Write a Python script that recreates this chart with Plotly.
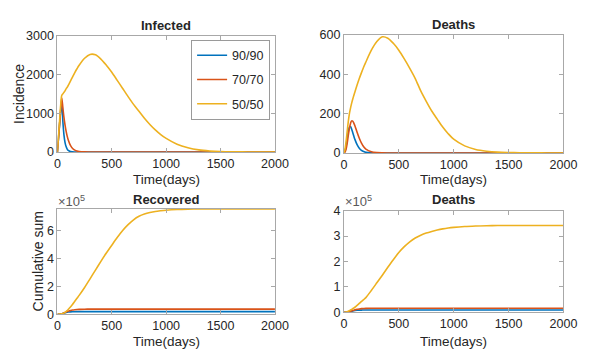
import plotly.graph_objects as go

# ---------------- data ----------------
t = [0, 10, 20, 30, 40, 50, 60, 70, 80, 90, 100, 120, 140, 160, 180, 200,
     250, 300, 350, 400, 450, 500, 550, 600, 650, 700, 750, 800, 850, 900, 950, 1000,
     1100, 1200, 1300, 1400, 1500, 1600, 1700, 1800, 1900, 2000]

series_names = ["90/90", "70/70", "50/50"]
colors = ["#0072BD", "#D95319", "#EDB120"]

# Infected incidence
inf_90 = [0, 350, 700, 1050, 1300, 800, 450, 250, 140, 75, 40, 10, 3, 1, 0, 0,
          0, 0, 0, 0, 0, 0, 0, 0, 0, 0, 0, 0, 0, 0, 0, 0,
          0, 0, 0, 0, 0, 0, 0, 0, 0, 0]
inf_70 = [0, 360, 720, 1080, 1400, 1150, 900, 700, 540, 410, 310, 170, 90, 48, 25, 13,
          3, 1, 0, 0, 0, 0, 0, 0, 0, 0, 0, 0, 0, 0, 0, 0,
          0, 0, 0, 0, 0, 0, 0, 0, 0, 0]
inf_50 = [0, 400, 800, 1200, 1460, 1500, 1540, 1580, 1630, 1670, 1720, 1830, 1940, 2050, 2150, 2240,
          2420, 2520, 2510, 2400, 2240, 2060, 1850, 1640, 1430, 1230, 1050, 870, 710, 570, 450, 350,
          200, 110, 55, 27, 12, 5, 2, 1, 0, 0]

# Deaths incidence
dth_90 = [0, 10, 35, 75, 110, 132, 134, 122, 104, 86, 69, 42, 24, 13, 7, 3.5,
          0.7, 0.1, 0, 0, 0, 0, 0, 0, 0, 0, 0, 0, 0, 0, 0, 0,
          0, 0, 0, 0, 0, 0, 0, 0, 0, 0]
dth_70 = [0, 5, 20, 50, 90, 125, 150, 163, 162, 152, 138, 105, 75, 50, 32, 20,
          6, 1.5, 0.3, 0, 0, 0, 0, 0, 0, 0, 0, 0, 0, 0, 0, 0,
          0, 0, 0, 0, 0, 0, 0, 0, 0, 0]
dth_50 = [0, 20, 60, 110, 160, 200, 228, 252, 273, 292, 310, 345, 378, 408, 437, 462,
          522, 566, 590, 583, 557, 522, 478, 430, 378, 315, 262, 213, 172, 132, 98, 70,
          36, 18, 9, 4, 2, 1, 0.5, 0.2, 0.1, 0]

# Cumulative recovered
rec_90 = [0, 100, 500, 1500, 3200, 5800, 8500, 11000, 13000, 14500, 15800, 17300, 18200, 18600, 18800, 18900,
          19000, 19000, 19000, 19000, 19000, 19000, 19000, 19000, 19000, 19000, 19000, 19000, 19000, 19000, 19000, 19000,
          19000, 19000, 19000, 19000, 19000, 19000, 19000, 19000, 19000, 19000]
rec_70 = [0, 100, 600, 1700, 3500, 6500, 10000, 13500, 17000, 20000, 22500, 27000, 30500, 33000, 34500, 35500,
          36500, 36900, 37000, 37000, 37000, 37000, 37000, 37000, 37000, 37000, 37000, 37000, 37000, 37000, 37000, 37000,
          37000, 37000, 37000, 37000, 37000, 37000, 37000, 37000, 37000, 37000]
rec_50 = [0, 300, 1000, 2000, 3200, 5000, 9000, 14000, 20000, 27000, 35000, 52000, 72000, 94000, 115000, 136000,
          193000, 255000, 318000, 381000, 441000, 497000, 552000, 603000, 645000, 680000, 705000, 721000, 732000, 740000, 745000, 749000,
          754000, 756500, 757500, 758000, 758000, 758000, 758000, 758000, 758000, 758000]

# Cumulative deaths
cd_90 = [0, 20, 150, 450, 1100, 2100, 3300, 4500, 5600, 6500, 7200, 8200, 8700, 8900, 9000, 9050,
         9100, 9100, 9100, 9100, 9100, 9100, 9100, 9100, 9100, 9100, 9100, 9100, 9100, 9100, 9100, 9100,
         9100, 9100, 9100, 9100, 9100, 9100, 9100, 9100, 9100, 9100]
cd_70 = [0, 20, 150, 500, 1200, 2400, 3800, 5400, 7000, 8500, 9800, 12000, 13500, 14500, 15100, 15500,
         15900, 16000, 16000, 16000, 16000, 16000, 16000, 16000, 16000, 16000, 16000, 16000, 16000, 16000, 16000, 16000,
         16000, 16000, 16000, 16000, 16000, 16000, 16000, 16000, 16000, 16000]
cd_50 = [0, 200, 900, 2300, 4200, 6500, 9000, 11500, 14000, 17000, 20000, 27000, 35000, 43000, 50000, 58000,
         86000, 116000, 146000, 177000, 207000, 235000, 258000, 277000, 292000, 303000, 311500, 318000, 323500, 328000, 331500, 334000,
         337500, 339500, 340600, 341100, 341300, 341400, 341400, 341400, 341400, 341400]

x_ticks = [0, 500, 1000, 1500, 2000]

# ---------------- figure ----------------
FONT = "Liberation Sans, Arial, Helvetica, sans-serif"
TXT = "#262626"
BOX = "#a8a8a8"

fig = go.Figure()

panels = [
    ("x", "y", [inf_90, inf_70, inf_50], True),
    ("x2", "y2", [dth_90, dth_70, dth_50], False),
    ("x3", "y3", [rec_90, rec_70, rec_50], False),
    ("x4", "y4", [cd_90, cd_70, cd_50], False),
]
for xa, ya, data, show in panels:
    for name, col, vals in zip(series_names, colors, data):
        fig.add_trace(go.Scatter(
            x=t, y=vals, mode="lines", name=name,
            line=dict(color=col, width=1.6, shape="spline", smoothing=0.8),
            xaxis=xa, yaxis=ya, showlegend=show, legendgroup=name,
            hoverinfo="skip"))

W, H = 592, 352


def dom_x(a, b):
    return [a / W, b / W]


def dom_y(top, bot):
    return [1 - bot / H, 1 - top / H]


axis_common = dict(
    showline=True, linecolor=BOX, linewidth=1, mirror="ticks",
    ticks="inside", ticklen=4, tickcolor=BOX, showgrid=False, zeroline=False,
    tickfont=dict(family=FONT, size=12.5, color=TXT),
)

fig.update_layout(
    width=W, height=H,
    margin=dict(l=0, r=0, t=0, b=0),
    paper_bgcolor="white", plot_bgcolor="white",
    font=dict(family=FONT, color=TXT),
    xaxis=dict(domain=dom_x(56, 280), anchor="y", range=[0, 2000], tickvals=x_ticks, **axis_common),
    yaxis=dict(domain=dom_y(30, 151), anchor="x", range=[0, 3000], tickvals=[0, 1000, 2000, 3000], **axis_common),
    xaxis2=dict(domain=dom_x(351, 577), anchor="y2", range=[0, 2000], tickvals=x_ticks, **axis_common),
    yaxis2=dict(domain=dom_y(29, 152), anchor="x2", range=[0, 600], tickvals=[0, 200, 400, 600], **axis_common),
    xaxis3=dict(domain=dom_x(56, 280), anchor="y3", range=[0, 2000], tickvals=x_ticks, **axis_common),
    yaxis3=dict(domain=dom_y(210, 320), anchor="x3", range=[0, 760000],
                tickvals=[0, 200000, 400000, 600000], ticktext=["0", "2", "4", "6"], **axis_common),
    xaxis4=dict(domain=dom_x(351, 577), anchor="y4", range=[0, 2000], tickvals=x_ticks, **axis_common),
    yaxis4=dict(domain=dom_y(212, 318), anchor="x4", range=[0, 400000],
                tickvals=[0, 100000, 200000, 300000, 400000], ticktext=["0", "1", "2", "3", "4"], **axis_common),
    legend=dict(
        x=275 / W, y=1 - 34 / H, xanchor="right", yanchor="top",
        bgcolor="white", bordercolor="#9a9a9a", borderwidth=1,
        font=dict(family=FONT, size=12.5, color=TXT),
        tracegroupgap=5, traceorder="grouped",
    ),
)


def ann(text, x, y, size=14, bold=False, angle=0, color=TXT, xanchor="center"):
    fig.add_annotation(
        text=("<b>%s</b>" % text) if bold else text,
        x=x / W, y=1 - y / H, xref="paper", yref="paper",
        showarrow=False, textangle=angle, xanchor=xanchor, yanchor="middle",
        font=dict(family=FONT, size=size, color=color))


# panel titles
ann("Infected", 168, 19, size=13, bold=True)
ann("Deaths", 464, 18, size=13, bold=True)
ann("Recovered", 168, 200, size=13, bold=True)
ann("Deaths", 464, 200, size=13, bold=True)
# axis titles
ann("Time(days)", 168, 179.5, size=13.5)
ann("Time(days)", 464, 179.5, size=13.5)
ann("Time(days)", 168, 348, size=13.5)
ann("Time(days)", 464, 348, size=13.5)
ann("Incidence", 17, 91, size=14, angle=-90)
ann("Cumulative sum", 37, 265, size=14, angle=-90)
# exponent labels
ann("×10<sup>5</sup>", 55, 202, size=13, color="#595959", xanchor="left")
ann("×10<sup>5</sup>", 350, 202, size=13, color="#595959", xanchor="left")

fig.write_html("out.html")
